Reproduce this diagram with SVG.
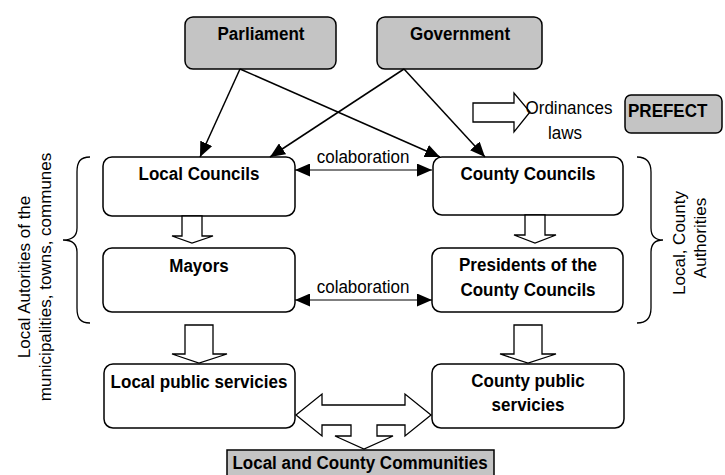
<svg xmlns="http://www.w3.org/2000/svg" width="725" height="475" viewBox="0 0 725 475">
  <style>
    .box { fill: #ffffff; stroke: #000000; stroke-width: 1.5; }
    .gray { fill: #c4c4c4; stroke: #000000; stroke-width: 1.5; }
    .lbl { font-family: "Liberation Sans", Arial, sans-serif; font-size: 18.5px; font-weight: bold; fill: #000000; text-anchor: middle; }
    .txt { font-family: "Liberation Sans", Arial, sans-serif; font-size: 18.5px; fill: #000000; text-anchor: middle; }
    .rot { font-family: "Liberation Sans", Arial, sans-serif; font-size: 17px; fill: #000000; text-anchor: middle; }
    .line { fill: none; stroke: #000000; stroke-width: 1.5; }
    .thin { fill: none; stroke: #000000; stroke-width: 1; }
    .hollow { fill: #ffffff; stroke: #000000; stroke-width: 1.3; stroke-linejoin: miter; }
    .brace { fill: none; stroke: #000000; stroke-width: 1.3; }
  </style>
  <defs>
    <marker id="head" viewBox="0 0 15 13" refX="15" refY="6.5" markerWidth="15" markerHeight="13" markerUnits="userSpaceOnUse" orient="auto">
      <path d="M0,0 L15,6.5 L0,13 z" fill="#000000"/>
    </marker>
    <marker id="headStart" viewBox="0 0 15 13" refX="0" refY="6.5" markerWidth="15" markerHeight="13" markerUnits="userSpaceOnUse" orient="auto">
      <path d="M15,0 L0,6.5 L15,13 z" fill="#000000"/>
    </marker>
  </defs>

  <!-- authority nodes; labels use a slightly condensed face -->
  <g id="parliament">
    <rect class="gray" x="185" y="17" width="151" height="52" rx="8"/>
    <text class="lbl" transform="translate(261,40) scale(0.92,1)">Parliament</text>
  </g>
  <g id="government">
    <rect class="gray" x="377" y="17" width="165" height="52" rx="8"/>
    <text class="lbl" transform="translate(460,40) scale(0.92,1)">Government</text>
  </g>
  <g id="prefect">
    <rect class="gray" x="625" y="95" width="97" height="38" rx="6"/>
    <text class="lbl" transform="translate(628,117) scale(0.92,1)" style="text-anchor:start">PREFECT</text>
  </g>

  <g id="local-councils">
    <rect class="box" x="103" y="157" width="192" height="59" rx="9"/>
    <text class="lbl" transform="translate(199,180) scale(0.92,1)">Local Councils</text>
  </g>
  <g id="county-councils">
    <rect class="box" x="433" y="157" width="190" height="58" rx="9"/>
    <text class="lbl" transform="translate(528,180) scale(0.92,1)">County Councils</text>
  </g>
  <g id="mayors">
    <rect class="box" x="103" y="248" width="192" height="64" rx="9"/>
    <text class="lbl" transform="translate(199,272) scale(0.92,1)">Mayors</text>
  </g>
  <g id="presidents">
    <rect class="box" x="432" y="248" width="191" height="64" rx="9"/>
    <text class="lbl" transform="translate(528,271) scale(0.92,1)">Presidents of the</text>
    <text class="lbl" transform="translate(528,296) scale(0.92,1)">County Councils</text>
  </g>
  <g id="local-services">
    <rect class="box" x="104" y="364" width="191" height="64" rx="9"/>
    <text class="lbl" transform="translate(199,388) scale(0.92,1)">Local public servicies</text>
  </g>
  <g id="county-services">
    <rect class="box" x="432" y="364" width="192" height="64" rx="9"/>
    <text class="lbl" transform="translate(528,387) scale(0.92,1)">County public</text>
    <text class="lbl" transform="translate(528,411) scale(0.92,1)">servicies</text>
  </g>
  <g id="communities">
    <rect class="gray" x="227" y="450" width="267" height="26"/>
    <text class="lbl" transform="translate(360,469) scale(0.92,1)">Local and County Communities</text>
  </g>

  <!-- group labels with braces -->
  <g id="local-authorities">
    <path class="brace" d="M90,157 C80,157 77,162 77,172 L77,228 C77,236 72,240 63,240 C72,240 77,244 77,252 L77,308 C77,318 80,323 90,323"/>
    <text class="rot" transform="translate(30,277) rotate(-90)">Local Autorities of the</text>
    <text class="rot" transform="translate(51,277) rotate(-90)">municipalities, towns, communes</text>
  </g>
  <g id="county-authorities">
    <path class="brace" d="M637,157 C647,157 651,162 651,172 L651,228 C651,236 655,240 663,240 C655,240 651,244 651,252 L651,308 C651,318 647,323 637,323"/>
    <text class="rot" transform="translate(685,243) rotate(-90)">Local, County</text>
    <text class="rot" transform="translate(706,238) rotate(-90)">Authorities</text>
  </g>

  <!-- connectors -->
  <g id="connectors">
    <line class="line" x1="240" y1="69" x2="200" y2="157" marker-end="url(#head)"/>
    <line class="line" x1="240" y1="69" x2="440" y2="157" marker-end="url(#head)"/>
    <line class="line" x1="404" y1="69" x2="270" y2="157" marker-end="url(#head)"/>
    <line class="line" x1="404" y1="69" x2="485" y2="157" marker-end="url(#head)"/>

    <line class="thin" x1="295" y1="170" x2="432" y2="170" marker-start="url(#headStart)" marker-end="url(#head)"/>
    <text class="txt" transform="translate(363,163) scale(0.92,1)">colaboration</text>
    <line class="thin" x1="295" y1="300" x2="432" y2="300" marker-start="url(#headStart)" marker-end="url(#head)"/>
    <text class="txt" transform="translate(363,293) scale(0.92,1)">colaboration</text>

    <!-- block arrows -->
    <polygon class="hollow" points="182,216 202,216 202,236 213,236 192,243 172,236 182,236"/>
    <polygon class="hollow" points="525,215 545,215 545,235 556,235 535,243 514,235 525,235"/>
    <polygon class="hollow" points="185,325 213,325 213,354 227,354 199,363 172,354 185,354"/>
    <polygon class="hollow" points="514,325 542,325 542,354 556,354 528,363 500,354 514,354"/>
    <polygon class="hollow" points="473,103 514,103 514,93 530,112 514,132 514,122 473,122"/>
    <polygon class="hollow" points="296,415 322,394 322,405 405,405 405,394 431,415 405,436 405,425 377,425 377,436 393,436 364,449 335,436 351,436 351,425 322,425 322,436"/>

    <text class="txt" transform="translate(569,114) scale(0.92,1)">Ordinances</text>
    <text class="txt" transform="translate(565,139) scale(0.92,1)">laws</text>
  </g>
</svg>
